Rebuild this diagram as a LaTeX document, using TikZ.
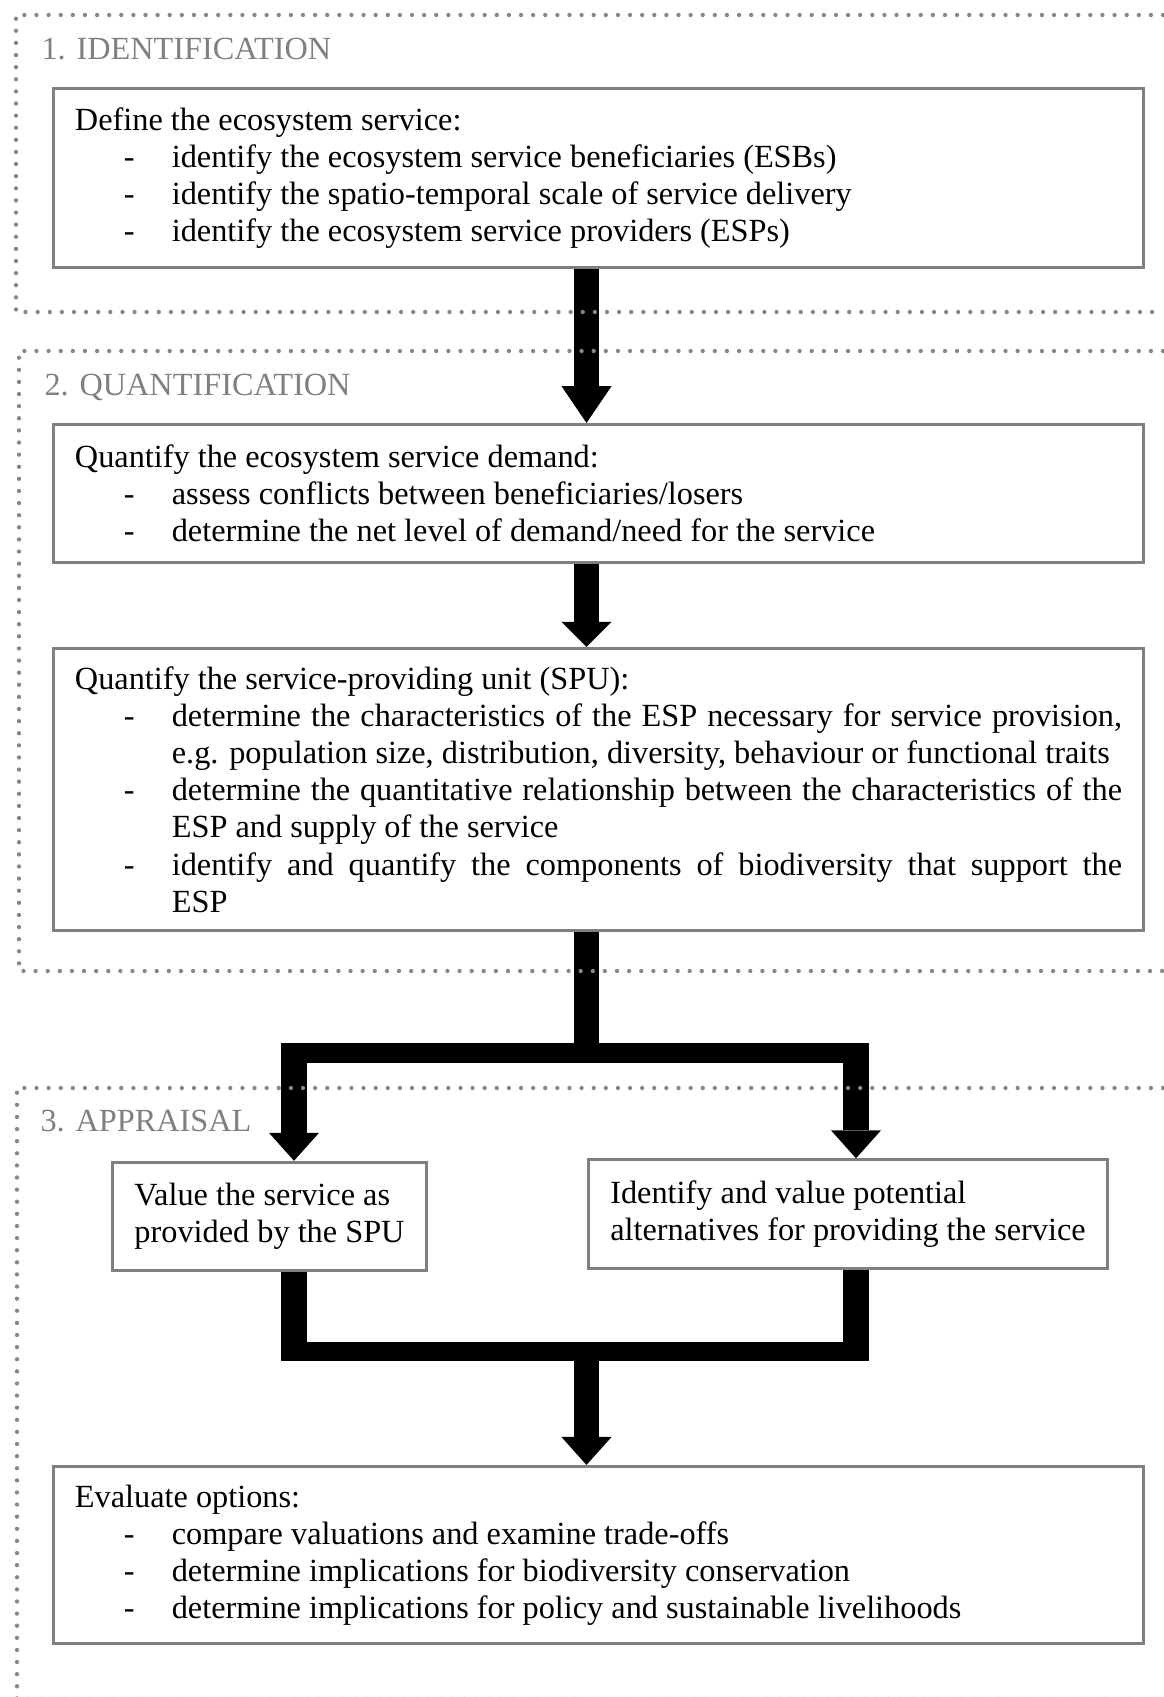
\documentclass[tikz,border=0pt]{standalone}
\usepackage{fontspec}
\setmainfont{Liberation Serif}
\usetikzlibrary{arrows.meta}
\definecolor{framegray}{RGB}{128,128,128}
\definecolor{dotgray}{RGB}{135,135,135}
\setlength{\parindent}{0pt}
\newcommand{\esitem}{\par\noindent\hangindent=36pt\hangafter=1\relax\makebox[36pt][l]{\hspace{18.2pt}-}}

\begin{document}
\begin{tikzpicture}[
  x=0.3715pt,y=-0.3715pt,
  every node/.style={font=\fontsize{12pt}{13.8pt}\selectfont},
  stagebox/.style={draw=framegray,line width=1.1pt,inner xsep=8pt,inner ysep=3pt,
                   text width=389pt,align=justify,minimum height=#1},
  smallbox/.style={draw=framegray,line width=1.1pt,inner xsep=7pt,align=left,
                   minimum height=40.3pt},
  stagetitle/.style={anchor=base west,inner sep=0pt,text=framegray},
  stageframe/.style={draw=dotgray,line width=1.6pt,dash pattern=on 0pt off 4.5pt,
                     line cap=round},
  shaft/.style={line width=9.3pt},
  crossbar/.style={line width=7.4pt,line cap=rect},
  flow/.style={shaft,-{Triangle[width=18.6pt,length=#1,line width=0pt]}},
  flow/.default=10.4pt,
]
  \useasboundingbox (0,0) rectangle (1163,1697);

  % Stage titles
  \node[stagetitle] (title1) at (41,60) {1. IDENTIFICATION};
  \node[stagetitle] (title2) at (44,395) {2. QUANTIFICATION};
  \node[stagetitle] (title3) at (40,1131) {3. APPRAISAL};

  % Stage 1
  \node[stagebox=66.5pt] (define) at (598.5,178) {%
    Define the ecosystem service:
    \esitem identify the ecosystem service beneficiaries (ESBs)
    \esitem identify the spatio-temporal scale of service delivery
    \esitem identify the ecosystem service providers (ESPs)\par};

  % Stage 2
  \node[stagebox=51.3pt] (demand) at (598.5,493.5) {%
    Quantify the ecosystem service demand:
    \esitem assess conflicts between beneficiaries/losers
    \esitem determine the net level of demand/need for the service\par};

  \node[stagebox=104.8pt] (spu) at (598.5,789.5) {%
    Quantify the service-providing unit (SPU):
    \esitem determine the characteristics of the ESP necessary for service provision,\linebreak
      e.g. population size, distribution, diversity, behaviour or functional traits
    \esitem determine the quantitative relationship between the characteristics of the\linebreak
      ESP and supply of the service
    \esitem identify and quantify the components of biodiversity that support the\linebreak
      ESP\par};

  % Stage 3
  \node[smallbox,minimum width=116.7pt] (value) at (269.5,1216.5)
    {Value the service as\\provided by the SPU};
  \node[smallbox,minimum width=192.8pt] (alt) at (848,1214)
    {Identify and value potential\\alternatives for providing the service};

  \node[stagebox=65.8pt] (eval) at (598.5,1555) {%
    Evaluate options:
    \esitem compare valuations and examine trade-offs
    \esitem determine implications for biodiversity conservation
    \esitem determine implications for policy and sustainable livelihoods\par};

  % Connectors
  \coordinate (spine) at (586.5,0);
  \coordinate (forkL) at (294,1053);
  \coordinate (forkR) at (856,1053);
  \coordinate (joinL) at (294,1351.5);
  \coordinate (joinR) at (856,1351.5);

  \draw[flow=13.7pt] (define.south -| spine) -- (demand.north -| spine);
  \draw[flow=9.3pt] (demand.south -| spine) -- (spu.north -| spine);
  \draw[shaft] (spu.south -| spine) -- (forkL -| spine);
  \draw[crossbar] (forkL) -- (forkR);
  \draw[flow] ([yshift=3.7pt]forkL) -- (value.north -| forkL);
  \draw[flow] ([yshift=3.7pt]forkR) -- (alt.north -| forkR);
  \draw[shaft] (value.south -| joinL) -- ([yshift=-3.7pt]joinL);
  \draw[shaft] (alt.south -| joinR) -- ([yshift=-3.7pt]joinR);
  \draw[crossbar] (joinL) -- (joinR);
  \draw[flow] (joinL -| spine) -- (eval.north -| spine);

  % Dotted stage frames
  \draw[stageframe] (1163,15) -- (16,15) -- (16,312) -- (1163,312);
  \draw[stageframe] (1163,351) -- (19,351) -- (19,971) -- (1163,971);
  \draw[stageframe] (1163,1088) -- (17,1088) -- (17,1699) -- (1163,1699);
\end{tikzpicture}
\end{document}
